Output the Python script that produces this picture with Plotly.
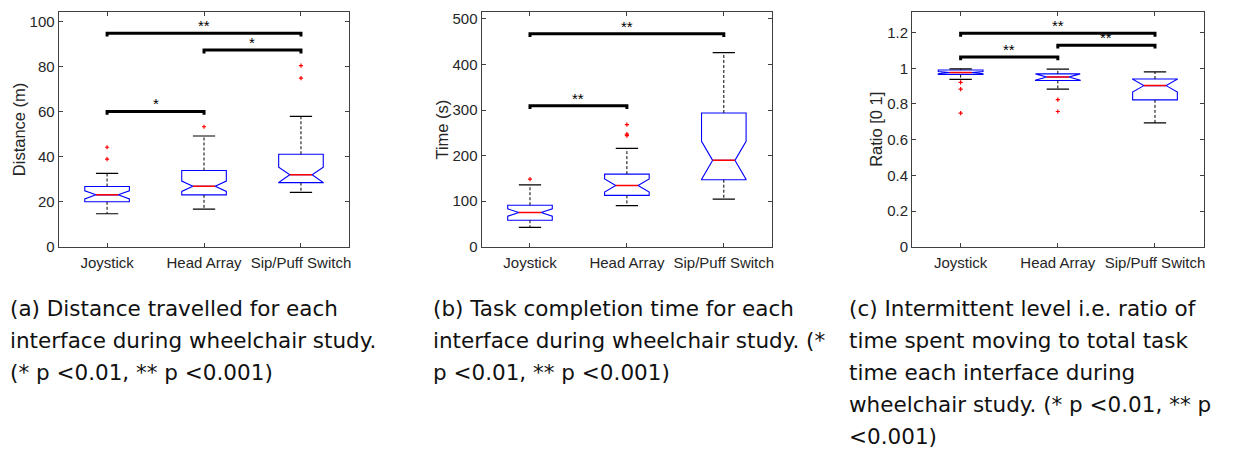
import plotly.graph_objects as go

# ---------------- data ----------------
categories = ["Joystick", "Head Array", "Sip/Puff Switch"]
positions = [1, 2, 3]

# (a) distance travelled (m)
dist_q1 = [19.9, 23.0, 28.4]
dist_median = [23.0, 26.8, 31.9]
dist_q3 = [26.7, 33.8, 41.0]
dist_notch = [1.8, 2.3, 3.4]
dist_low = [14.6, 16.7, 24.1]
dist_high = [32.5, 49.1, 57.8]
dist_out_pos = [1, 1, 2, 3, 3]
dist_out_val = [44.1, 38.8, 53.2, 80.3, 74.8]
dist_sig_from = [1, 2, 1]
dist_sig_to = [3, 3, 2]
dist_sig_level = [94.7, 87.2, 60.0]
dist_sig_label = ["**", "*", "*"]
dist_ticks = [0, 20, 40, 60, 80, 100]

# (b) task completion time (s)
time_q1 = [58.1, 112.7, 147.0]
time_median = [75.0, 134.2, 189.5]
time_q3 = [91.0, 159.3, 293.5]
time_notch = [8.0, 14.3, 42.0]
time_low = [42.4, 90.0, 104.5]
time_high = [135.6, 216.0, 426.0]
time_out_pos = [1, 2, 2, 2]
time_out_val = [148.5, 268.0, 247.0, 244.0]
time_sig_from = [1, 1]
time_sig_to = [3, 2]
time_sig_level = [467.7, 309.5]
time_sig_label = ["**", "**"]
time_ticks = [0, 100, 200, 300, 400, 500]

# (c) intermittent level ratio
ratio_q1 = [0.965, 0.932, 0.823]
ratio_median = [0.976, 0.951, 0.903]
ratio_q3 = [0.991, 0.969, 0.940]
ratio_notch = [0.006, 0.018, 0.036]
ratio_low = [0.938, 0.883, 0.694]
ratio_high = [0.997, 0.995, 0.980]
ratio_out_pos = [1, 1, 1, 2, 2]
ratio_out_val = [0.921, 0.883, 0.749, 0.824, 0.758]
ratio_sig_from = [1, 2, 1]
ratio_sig_to = [3, 3, 2]
ratio_sig_level = [1.196, 1.130, 1.063]
ratio_sig_label = ["**", "**", "**"]
ratio_ticks = [0, 0.2, 0.4, 0.6, 0.8, 1.0, 1.2]
ratio_tick_text = ["0", "0.2", "0.4", "0.6", "0.8", "1", "1.2"]

y_titles = ["Distance (m)", "Time (s)", "Ratio [0 1]"]

caption_a = ["(a) Distance travelled for each",
             "interface during wheelchair study.",
             "(* p &lt;0.01, ** p &lt;0.001)"]
caption_b = ["(b) Task completion time for each",
             "interface during wheelchair study. (*",
             "p &lt;0.01, ** p &lt;0.001)"]
caption_c = ["(c) Intermittent level i.e. ratio of",
             "time spent moving to total task",
             "time each interface during",
             "wheelchair study. (* p &lt;0.01, ** p",
             "&lt;0.001)"]

# ---------------- layout constants ----------------
W, H = 1254, 450
PLOT_TOP, PLOT_BOTTOM = 11, 250.7
panel_x = [(58.7, 350.0), (482.3, 773.5), (913.5, 1205.5)]
ytitle_x = [19, 443, 878]
caption_x = [8, 432, 848]
caption_top, caption_step = 314, 32.5
y_ranges = [[0, 104.2], [0, 515.7], [0, 1.317]]

BOX_W = 0.46
HALF = BOX_W / 2
CAP = HALF / 2
TICK_FONT = dict(family="Liberation Sans, Arial, sans-serif", size=15, color="#262626")
CAP_FONT = dict(family="DejaVu Sans, sans-serif", size=21.5, color="#111111")

fig = go.Figure()

panels = [
    (dist_q1, dist_median, dist_q3, dist_notch, dist_low, dist_high,
     dist_out_pos, dist_out_val, dist_sig_from, dist_sig_to, dist_sig_level, dist_sig_label,
     dist_ticks, [str(t) for t in dist_ticks]),
    (time_q1, time_median, time_q3, time_notch, time_low, time_high,
     time_out_pos, time_out_val, time_sig_from, time_sig_to, time_sig_level, time_sig_label,
     time_ticks, [str(t) for t in time_ticks]),
    (ratio_q1, ratio_median, ratio_q3, ratio_notch, ratio_low, ratio_high,
     ratio_out_pos, ratio_out_val, ratio_sig_from, ratio_sig_to, ratio_sig_level, ratio_sig_label,
     ratio_ticks, ratio_tick_text),
]

annotations = []
for k, (q1, med, q3, notch, low, high, opos, oval, sf, st, sl, slab, tv, tt) in enumerate(panels):
    xa = "x" if k == 0 else f"x{k+1}"
    ya = "y" if k == 0 else f"y{k+1}"
    rng = y_ranges[k][1] - y_ranges[k][0]

    # boxes (no whiskers; drawn separately)
    fig.add_trace(go.Box(
        x=positions, q1=q1, median=med, q3=q3, lowerfence=q1, upperfence=q3,
        notched=True, notchspan=notch, notchwidth=0.25, width=BOX_W,
        whiskerwidth=0, boxpoints=False,
        line=dict(color="#0000ff", width=1.1), fillcolor="rgba(0,0,0,0)",
        xaxis=xa, yaxis=ya, hoverinfo="skip"))

    # dashed whiskers
    wx, wy = [], []
    for p, a, b, c, d in zip(positions, q1, q3, low, high):
        wx += [p, p, None, p, p, None]
        wy += [b, d, None, a, c, None]
    fig.add_trace(go.Scatter(x=wx, y=wy, mode="lines",
                             line=dict(color="#000000", width=1, dash="3px,2px"),
                             xaxis=xa, yaxis=ya, hoverinfo="skip"))
    # whisker caps
    cx, cy = [], []
    for p, c, d in zip(positions, low, high):
        cx += [p - CAP, p + CAP, None, p - CAP, p + CAP, None]
        cy += [d, d, None, c, c, None]
    fig.add_trace(go.Scatter(x=cx, y=cy, mode="lines",
                             line=dict(color="#000000", width=1.2),
                             xaxis=xa, yaxis=ya, hoverinfo="skip"))
    # red medians
    mx, my = [], []
    for p, m in zip(positions, med):
        mx += [p - CAP, p + CAP, None]
        my += [m, m, None]
    fig.add_trace(go.Scatter(x=mx, y=my, mode="lines",
                             line=dict(color="#ff0000", width=1.5),
                             xaxis=xa, yaxis=ya, hoverinfo="skip"))
    # outliers
    fig.add_trace(go.Scatter(x=opos, y=oval, mode="markers",
                             marker=dict(symbol="cross-thin", size=3,
                                         line=dict(color="#ff0000", width=1.2)),
                             xaxis=xa, yaxis=ya, hoverinfo="skip"))
    # significance bars
    drop = 0.014 * rng
    bx, by = [], []
    for a, b, lev, lab in zip(sf, st, sl, slab):
        bx += [a, a, b, b, None]
        by += [lev - drop, lev, lev, lev - drop, None]
        annotations.append(dict(x=(a + b) / 2, y=lev, xref=xa, yref=ya,
                                text=lab, showarrow=False, yanchor="bottom",
                                yshift=-3,
                                font=dict(family="Liberation Sans, Arial", size=15, color="#000000")))
    fig.add_trace(go.Scatter(x=bx, y=by, mode="lines",
                             line=dict(color="#000000", width=3),
                             xaxis=xa, yaxis=ya, hoverinfo="skip"))

    x0, x1 = panel_x[k]
    axis_common = dict(showline=True, linecolor="#404040", linewidth=1, mirror="allticks",
                       ticks="inside", ticklen=4, tickcolor="#404040", showgrid=False,
                       zeroline=False, tickfont=TICK_FONT)
    fig.update_layout(**{
        ("xaxis" if k == 0 else f"xaxis{k+1}"): dict(
            domain=[x0 / W, x1 / W], range=[0.5, 3.5], anchor=ya,
            tickvals=positions, ticktext=categories, ticklabelstandoff=2, **axis_common),
        ("yaxis" if k == 0 else f"yaxis{k+1}"): dict(
            domain=[1 - PLOT_BOTTOM / H, 1 - PLOT_TOP / H], range=y_ranges[k], anchor=xa,
            tickvals=tv, ticktext=tt, **axis_common),
    })
    # y-axis title
    annotations.append(dict(x=ytitle_x[k] / W, y=1 - (PLOT_TOP + PLOT_BOTTOM) / 2 / H,
                            xref="paper", yref="paper", text=y_titles[k], textangle=-90,
                            showarrow=False, xanchor="center", yanchor="middle",
                            font=dict(family="Liberation Sans, Arial", size=16.5, color="#262626")))

# captions, one annotation per line
for cx0, lines in zip(caption_x, [caption_a, caption_b, caption_c]):
    for i, line in enumerate(lines):
        annotations.append(dict(x=cx0 / W, y=1 - (caption_top + caption_step * i) / H,
                                xref="paper", yref="paper",
                                text=line, showarrow=False, xanchor="left", yanchor="middle",
                                font=CAP_FONT))

fig.update_layout(width=W, height=H, margin=dict(l=0, r=0, t=0, b=0),
                  paper_bgcolor="white", plot_bgcolor="white", showlegend=False,
                  annotations=annotations)

fig.write_html("out.html")
